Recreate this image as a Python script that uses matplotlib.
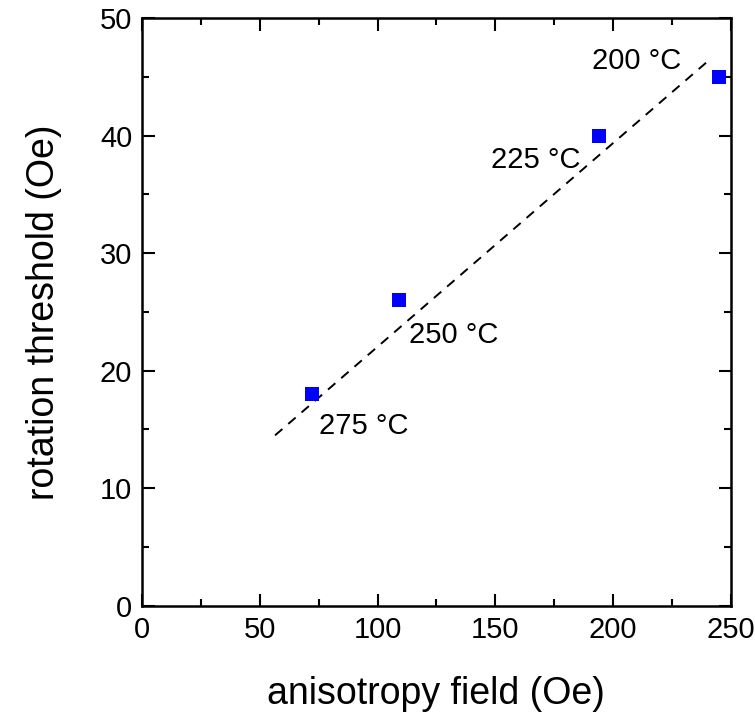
import matplotlib
matplotlib.use("Agg")
import matplotlib.pyplot as plt
from matplotlib.ticker import MultipleLocator

plt.rcParams['font.family'] = ['Liberation Sans', 'DejaVu Sans']

aniso_field = [72, 109, 194, 245]
rot_threshold = [18, 26, 40, 45]
temps = ["275 °C", "250 °C", "225 °C", "200 °C"]
label_x = [94, 132.5, 167, 210]
label_y = [15.3, 23.0, 37.9, 46.3]
fit_x = [56.5, 240.7]
fit_y = [14.5, 46.4]

fig = plt.figure(figsize=(7.55, 7.17), dpi=100)
ax = fig.add_axes([0.188, 0.155, 0.780, 0.820])

ax.plot(fit_x, fit_y, color='black', linestyle=(0, (5, 4)), linewidth=1.4)
ax.plot(aniso_field, rot_threshold, linestyle='none', marker='s', markersize=10,
        color='#0000ff', markeredgewidth=0)
for t, lx, ly in zip(temps, label_x, label_y):
    ax.text(lx, ly, t, fontsize=21, ha='center', va='center')

ax.set_xlim(0, 250)
ax.set_ylim(0, 50)
ax.xaxis.set_major_locator(MultipleLocator(50))
ax.xaxis.set_minor_locator(MultipleLocator(25))
ax.yaxis.set_major_locator(MultipleLocator(10))
ax.yaxis.set_minor_locator(MultipleLocator(5))
ax.tick_params(which='both', direction='in', top=True, right=True, width=1.5, labelsize=21)
ax.tick_params(which='major', length=9, pad=7)
ax.tick_params(which='minor', length=5)
for s in ax.spines.values():
    s.set_linewidth(1.8)

ax.set_xlabel('anisotropy field (Oe)', fontsize=27, labelpad=23)
ax.set_ylabel('rotation threshold (Oe)', fontsize=27, labelpad=27)

fig.savefig('out.png', dpi=100)
